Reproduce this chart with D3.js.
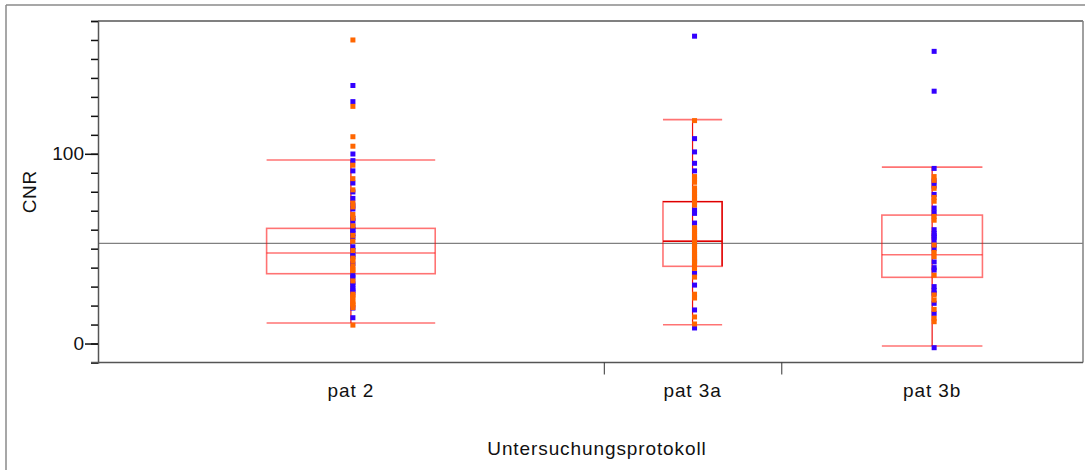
<!DOCTYPE html>
<html>
<head>
<meta charset="utf-8">
<script src="https://cdn.jsdelivr.net/npm/d3@7"></script>
<style>
  body { margin: 0; background: #fff; }
  svg { display: block; font-family: "Liberation Sans", Arial, Helvetica, sans-serif; }
</style>
</head>
<body>
<svg id="chart" width="1085" height="470"></svg>
<script>
// Protocol groups and their sample sizes (group width on the x axis is proportional to n)
const categories = ["pat 2", "pat 3a", "pat 3b"];
const sampleSize = [57, 20, 34];
// Group whose box is currently selected (drawn with a solid outline on top/right/median)
const selected = [false, true, false];

// Box summary per group
const whiskerLow  = [10.8, 9.9, -1.3];
const q1          = [36.8, 40.7, 34.9];
const median      = [47.7, 53.9, 46.8];
const q3          = [60.7, 74.8, 67.7];
const whiskerHigh = [96.7, 118, 93];

// Overall mean across all groups
const grandMean = 52.8;

// Individual CNR values, two patient subsets per group
const orangeValues = [
  [160, 125, 109, 104, 94, 86.9, 81, 74, 72, 68, 66, 62, 57, 54, 49, 45, 43.7, 41, 39, 38.4, 33, 26, 25, 24, 22, 21, 20.3, 19, 9.7],
  [117.5, 88, 86.5, 85, 82, 80.5, 79, 77.5, 76, 74.5, 73, 61, 60, 59, 58, 57, 55, 53, 52, 51, 49, 48, 47, 46, 44, 43, 42, 39.6, 35, 26, 24, 14, 10.3],
  [88, 86, 81.8, 77, 75, 67, 65, 51.9, 48, 45.8, 36, 25.6, 22.9, 18, 13.3, 11.5]
];
const blueValues = [
  [136, 127.5, 99.9, 96.4, 91, 84.6, 79.9, 76.5, 73, 70.9, 66, 64.7, 62, 60, 59.7, 58, 56, 51, 49, 47, 46, 42, 36, 34.9, 32, 30.8, 29.1, 28, 27, 18.7, 13.6],
  [162, 108, 101, 95, 91, 70.4, 68.6, 63.5, 55.6, 54, 45, 43, 37, 30.8, 17.7, 8.2],
  [154, 133, 92.3, 85.3, 83, 78.6, 71.4, 69, 60, 58, 57, 56, 54.6, 52, 50, 43, 40, 38.7, 30, 28, 26.5, 21.2, 15.9, -2.2]
];

// Axis ticks
const minorTicks = d3.range(-10, 171, 10);
const majorTicks = [0, 100];

const svg = d3.select("#chart");
const plot = { left: 98, right: 1083, top: 21, bottom: 362.5 };

const y = d3.scaleLinear().domain([-10, 170]).range([plot.bottom, plot.top]);

const ends = d3.cumsum(sampleSize);
const starts = [0, ...Array.from(ends).slice(0, -1)];
const x = d3.scaleLinear().domain([0, d3.sum(sampleSize)]).range([plot.left, plot.right]);

const groups = categories.map((name, i) => {
  const x0 = x(starts[i]), x1 = x(ends[i]);
  return {
    name, i,
    cx: (x0 + x1) / 2,
    half: (x1 - x0) / 6
  };
});

// Outer frame
svg.append("line").attr("x1", 6).attr("x2", 6).attr("y1", 5).attr("y2", 470)
  .attr("stroke", "#8a8a8a").attr("stroke-width", 1.5);
svg.append("line").attr("x1", 6).attr("x2", 1085).attr("y1", 5).attr("y2", 5)
  .attr("stroke", "#8a8a8a").attr("stroke-width", 1.5);

// Plot frame (top and right)
svg.append("line").attr("x1", plot.left).attr("x2", plot.right).attr("y1", plot.top).attr("y2", plot.top)
  .attr("stroke", "#808080").attr("stroke-width", 2);
svg.append("line").attr("x1", plot.right).attr("x2", plot.right).attr("y1", plot.top).attr("y2", plot.bottom)
  .attr("stroke", "#808080").attr("stroke-width", 1.5);

// Grand mean reference line
svg.append("line")
  .attr("x1", plot.left).attr("x2", plot.right)
  .attr("y1", y(grandMean)).attr("y2", y(grandMean))
  .attr("stroke", "#808080").attr("stroke-width", 1.2);

// Boxes and whiskers
const boxColor = "rgba(255,0,0,0.55)";
const g = svg.append("g").selectAll("g").data(groups).join("g");

g.append("line")
  .attr("x1", d => d.cx).attr("x2", d => d.cx)
  .attr("y1", d => y(whiskerLow[d.i])).attr("y2", d => y(whiskerHigh[d.i]))
  .attr("stroke", "#ee1111").attr("stroke-width", 1.2);

g.append("rect")
  .attr("x", d => d.cx - d.half).attr("width", d => 2 * d.half)
  .attr("y", d => y(q3[d.i])).attr("height", d => y(q1[d.i]) - y(q3[d.i]))
  .attr("fill", "none").attr("stroke", boxColor).attr("stroke-width", 1.6);

g.append("line")
  .attr("x1", d => d.cx - d.half).attr("x2", d => d.cx + d.half)
  .attr("y1", d => y(median[d.i])).attr("y2", d => y(median[d.i]))
  .attr("stroke", boxColor).attr("stroke-width", 1.6);

[whiskerLow, whiskerHigh].forEach(arr => {
  g.append("line")
    .attr("x1", d => d.cx - d.half).attr("x2", d => d.cx + d.half)
    .attr("y1", d => y(arr[d.i])).attr("y2", d => y(arr[d.i]))
    .attr("stroke", boxColor).attr("stroke-width", 1.6);
});

// Solid outline for the selected box: top edge, right edge and median
g.filter(d => selected[d.i]).append("path")
  .attr("d", d => {
    const l = d.cx - d.half, r = d.cx + d.half;
    return `M${l},${y(q3[d.i])}H${r}V${y(q1[d.i])}M${l},${y(median[d.i])}H${r}`;
  })
  .attr("fill", "none").attr("stroke", "#dd0000").attr("stroke-width", 1.4);

// Points
const size = 5, shift = 2;
function drawPoints(values, color) {
  const pts = groups.flatMap(d => values[d.i].map(v => ({ cx: d.cx, v })));
  svg.append("g").selectAll("rect").data(pts).join("rect")
    .attr("x", d => d.cx + shift - size / 2)
    .attr("y", d => y(d.v) - size / 2)
    .attr("width", size).attr("height", size)
    .attr("fill", color);
}
drawPoints(blueValues, "#3300ff");
drawPoints(orangeValues, "#ff6600");

// Y axis
const yMinor = svg.append("g").attr("transform", `translate(${plot.left},0)`)
  .call(d3.axisLeft(y).tickValues(minorTicks).tickSize(7).tickFormat(""));
yMinor.select(".domain").attr("stroke", "#555").attr("stroke-width", 1.5);
yMinor.selectAll(".tick line").attr("stroke", "#111").attr("stroke-width", 1.5);

const yMajor = svg.append("g").attr("transform", `translate(${plot.left},0)`)
  .call(d3.axisLeft(y).tickValues(majorTicks).tickSize(13).tickPadding(1));
yMajor.select(".domain").remove();
yMajor.selectAll(".tick line").attr("stroke", "#111").attr("stroke-width", 1.5);
yMajor.selectAll(".tick text").attr("font-size", 19).attr("fill", "#111")
  .attr("font-family", "'Liberation Sans', Arial, sans-serif");

svg.append("text")
  .attr("transform", `translate(${36},${(plot.top + plot.bottom) / 2}) rotate(-90)`)
  .attr("text-anchor", "middle")
  .attr("font-size", 19).attr("fill", "#111")
  .attr("letter-spacing", 0.6)
  .text("CNR");

// X axis with group dividers
const xAxis = svg.append("g").attr("transform", `translate(0,${plot.bottom})`)
  .call(d3.axisBottom(x).tickValues(Array.from(ends).slice(0, -1)).tickSize(12).tickFormat(""));
xAxis.select(".domain").attr("stroke", "#555").attr("stroke-width", 1.5)
  .attr("d", `M${plot.left - 7},0H${plot.right}`);
xAxis.selectAll(".tick line").attr("stroke", "#333").attr("stroke-width", 1);

svg.append("g").selectAll("text").data(groups).join("text")
  .attr("x", d => d.cx).attr("y", 397)
  .attr("text-anchor", "middle")
  .attr("font-size", 19).attr("fill", "#111")
  .attr("letter-spacing", 0.9)
  .text(d => d.name);

svg.append("text")
  .attr("x", 597).attr("y", 455)
  .attr("text-anchor", "middle")
  .attr("font-size", 19).attr("fill", "#111")
  .attr("letter-spacing", 0.9)
  .text("Untersuchungsprotokoll");
</script>
</body>
</html>
